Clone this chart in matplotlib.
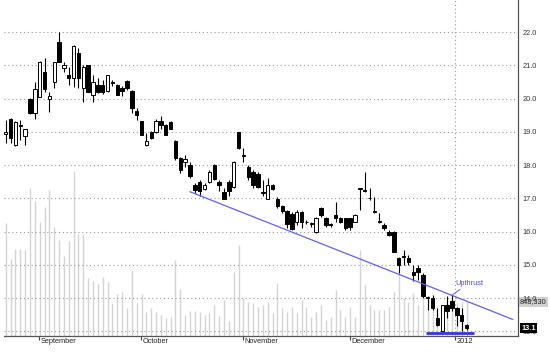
import matplotlib
matplotlib.use("Agg")
import matplotlib.pyplot as plt

# daily candles, late Aug 2011 - early Jan 2012
opens = [18.95, 19.38, 18.60, 19.22, 18.88, 20.00, 19.58, 20.06, 20.79, 20.00,
         20.49, 21.72, 20.92, 20.71, 20.63, 21.37, 20.31, 21.01, 20.11, 20.41,
         20.40, 20.22, 20.50, 20.40, 20.32, 20.52, 20.24, 19.62, 19.32, 18.62,
         18.99, 19.00, 19.32, 19.22, 19.30, 18.72, 18.21, 18.11, 18.01, 17.40,
         17.49, 17.29, 17.49, 18.00, 17.49, 17.18, 17.49, 17.34, 18.99, 18.32,
         17.95, 17.80, 17.74, 17.20, 16.98, 17.39, 16.98, 16.78, 16.62, 16.54,
         16.29, 16.59, 16.30, 16.24, 16.00, 16.70, 16.40, 16.22, 16.50, 16.40,
         16.40, 16.40, 16.30, 17.30, 17.25, 17.02, 16.62, 16.32, 16.20, 16.00,
         16.00, 15.22, 15.27, 15.20, 14.80, 14.90, 14.70, 14.02, 14.00, 13.40,
         13.00, 13.80, 13.90, 13.70, 13.50, 13.20]
highs = [19.37, 19.42, 19.32, 19.37, 19.10, 20.02, 20.51, 21.13, 21.21, 20.20,
         21.11, 22.00, 21.11, 20.96, 21.62, 21.54, 21.01, 21.01, 20.71, 20.63,
         20.55, 20.72, 20.57, 20.45, 20.38, 20.55, 20.26, 19.72, 19.34, 18.97,
         19.02, 19.40, 19.47, 19.25, 19.32, 18.75, 18.26, 18.31, 18.11, 17.45,
         17.54, 17.45, 17.85, 18.05, 17.56, 17.30, 17.54, 18.12, 19.00, 18.51,
         18.00, 17.85, 17.78, 17.54, 17.60, 17.42, 17.05, 16.80, 16.66, 16.60,
         16.64, 16.62, 16.34, 16.30, 16.45, 16.75, 16.45, 16.25, 16.90, 16.45,
         16.42, 16.42, 16.52, 17.32, 17.80, 17.30, 17.05, 16.55, 16.25, 16.05,
         16.02, 15.25, 15.45, 15.30, 15.00, 15.00, 14.75, 14.05, 14.10, 13.70,
         13.80, 14.05, 14.10, 13.72, 13.70, 13.22]
lows = [18.68, 18.68, 18.58, 18.75, 18.62, 19.55, 19.40, 20.04, 20.20, 19.60,
        20.31, 21.09, 20.81, 20.41, 20.36, 20.31, 19.90, 20.21, 19.90, 20.16,
        20.15, 20.19, 20.37, 20.10, 20.07, 20.25, 19.57, 19.37, 18.90, 18.59,
        18.80, 18.98, 19.10, 18.90, 19.08, 18.15, 17.76, 17.96, 17.60, 17.15,
        17.08, 17.25, 17.45, 17.55, 17.23, 16.97, 17.08, 17.30, 18.50, 18.10,
        17.55, 17.30, 17.30, 17.08, 16.98, 17.25, 16.70, 16.55, 16.12, 16.05,
        16.20, 16.10, 16.24, 16.15, 15.95, 16.45, 16.15, 16.15, 16.30, 16.25,
        16.05, 16.05, 16.28, 16.65, 17.20, 16.95, 16.55, 16.25, 16.05, 15.88,
        15.38, 14.75, 15.00, 15.00, 14.50, 14.55, 14.00, 13.65, 13.65, 13.15,
        13.00, 13.40, 13.60, 13.15, 13.00, 13.05]
closes = [19.00, 18.83, 19.30, 19.18, 19.10, 19.58, 20.29, 21.11, 20.28, 20.09,
          21.09, 21.11, 21.00, 20.61, 21.60, 20.61, 20.96, 20.21, 20.49, 20.21,
          20.20, 20.70, 20.48, 20.12, 20.22, 20.32, 19.72, 19.52, 18.92, 18.72,
          18.82, 19.32, 19.22, 18.92, 19.10, 18.21, 17.86, 18.19, 17.66, 17.25,
          17.23, 17.39, 17.80, 17.59, 17.39, 16.98, 17.23, 18.10, 18.51, 18.28,
          17.64, 17.39, 17.34, 17.16, 17.39, 17.29, 16.78, 16.62, 16.22, 16.09,
          16.59, 16.29, 16.28, 16.26, 16.40, 16.50, 16.20, 16.20, 16.40, 16.30,
          16.10, 16.15, 16.50, 17.27, 17.22, 17.00, 16.60, 16.30, 16.10, 15.90,
          15.40, 15.00, 15.24, 15.10, 14.70, 14.80, 14.05, 14.00, 13.70, 13.20,
          13.80, 13.60, 13.70, 13.50, 13.30, 13.10]
volumes = [2830000, 1910000, 2170000, 2160000, 2150000, 3700000, 3370000, 2840000, 3210000, 3640000,
           2710000, 2400000, 2000000, 2360000, 4120000, 2540000, 2540000, 1440000, 1370000, 1290000,
           1460000, 1350000, 830000, 1040000, 1100000, 710000, 1640000, 820000, 1040000, 600000,
           690000, 600000, 520000, 450000, 480000, 1900000, 1160000, 530000, 630000, 620000,
           590000, 520000, 570000, 780000, 510000, 900000, 370000, 1600000, 2270000, 940000,
           860000, 820000, 730000, 770000, 860000, 570000, 1310000, 690000, 610000, 730000,
           570000, 900000, 730000, 480000, 610000, 770000, 400000, 480000, 1150000, 650000,
           480000, 730000, 480000, 2150000, 1270000, 770000, 650000, 650000, 650000, 730000,
           1100000, 1560000, 940000, 860000, 1060000, 770000, 1270000, 980000, 980000, 730000,
           770000, 860000, 980000, 820000, 860000, 848330]

month_pos = [6.9, 27.9, 48.9, 71.0, 92.6]
month_labels = ['September', 'October', 'November', 'December', '2012']

trend_x = [38.0, 104.5]
trend_y = [17.2, 13.36]
support_x = [86.7, 96.6]
support_y = [12.95, 12.95]

plt.rcParams['font.family'] = ['Liberation Sans', 'DejaVu Sans']
fs = 5.3

fig = plt.figure(figsize=(5.5, 3.64), dpi=100)
ax = fig.add_axes([4 / 550, 28 / 364, 514 / 550, 336 / 364])
ax2 = ax.twinx()

x = list(range(len(closes)))

# volume in the background
ax2.vlines(x, 0, volumes, color='#d4d4d4', linewidth=1)
ax2.set_ylim(0, 8.38e6)
ax2.set_yticks([])
for s in ax2.spines.values():
    s.set_visible(False)

ax.set_zorder(ax2.get_zorder() + 1)
ax.patch.set_visible(False)

# candles
ax.vlines(x, lows, highs, color='black', linewidth=0.8, zorder=3)
bottoms = [min(o, c) for o, c in zip(opens, closes)]
heights = [abs(c - o) for o, c in zip(opens, closes)]
faces = ['white' if c > o else 'black' for o, c in zip(opens, closes)]
ax.bar(x, heights, bottom=bottoms, width=0.7, color=faces,
       edgecolor='black', linewidth=0.7, zorder=4)

# trend lines
ax.plot(trend_x, trend_y, color='#5f5fff', linewidth=0.9, zorder=5)
ax.plot(support_x, support_y, color='#3535e0', linewidth=2, zorder=5,
        solid_capstyle='butt', clip_on=False)
ax.annotate('Upthrust', xy=(91.8, 14.07), xytext=(92.6, 14.45),
            color='#4a4ae6', fontsize=fs, ha='left', va='center', zorder=6,
            arrowprops=dict(arrowstyle='-', color='#6060ff', lw=0.7,
                            shrinkA=0, shrinkB=0))

ax.set_xlim(-0.35, 105.6)
ax.set_ylim(12.86, 22.97)

ax.set_yticks([13 + i for i in range(10)])
ax.yaxis.tick_right()
ax.yaxis.set_major_formatter(plt.FormatStrFormatter('%.1f'))
ax.tick_params(axis='y', length=0, pad=3, labelsize=fs, labelcolor='#333333')
ax.yaxis.grid(True, linestyle=(0, (1, 2.5)), color='#9a9a9a', linewidth=0.8)
ax.axvline(month_pos[-1], linestyle=(0, (1, 2.5)), color='#9a9a9a', linewidth=0.8, zorder=1)

ax.set_xticks(month_pos)
ax.set_xticklabels([])
ax.tick_params(axis='x', length=3, width=0.8, color='#444444', direction='out')
for p, lab in zip(month_pos, month_labels):
    ax.text(p + 0.35, -0.006, lab, transform=ax.get_xaxis_transform(),
            ha='left', va='top', fontsize=fs, color='#222222')

for side in ['top', 'left']:
    ax.spines[side].set_visible(False)
for side in ['bottom', 'right']:
    ax.spines[side].set_color('#555555')
    ax.spines[side].set_linewidth(0.9)

# last value markers
ax.text(1.006, closes[-1], f'{closes[-1]:.1f}', transform=ax.get_yaxis_transform(),
        color='white', fontsize=fs, fontweight='bold', ha='left', va='center',
        bbox=dict(facecolor='black', edgecolor='none', pad=0.8), zorder=10, clip_on=False)
ax2.text(1.004, volumes[-1], f'{volumes[-1]:,}', transform=ax2.get_yaxis_transform(),
         color='#222222', fontsize=fs, ha='left', va='center',
         bbox=dict(facecolor='#d0d0d0', edgecolor='none', pad=0.8), zorder=10, clip_on=False)

fig.savefig('out.png', dpi=100)
